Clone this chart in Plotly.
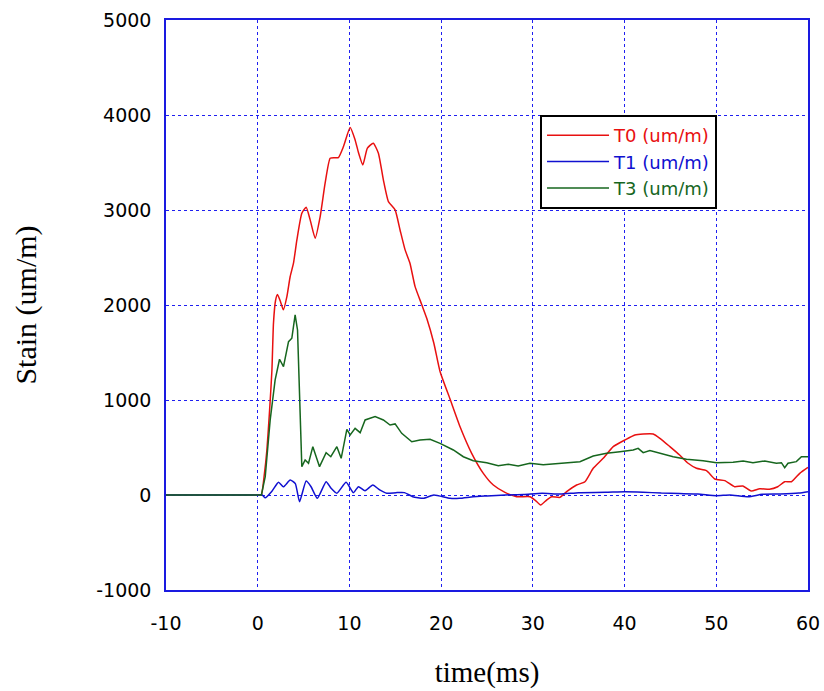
import plotly.graph_objects as go

# ---- data ----
t0_x = [-10, -7, -4, -1, 0.2, 0.4, 0.7, 1.0, 1.3, 1.55, 1.72, 1.95, 2.16, 2.5, 2.8, 3.18, 3.54, 3.9, 4.27, 4.81, 5.28,
        5.72, 6.26, 6.81, 7.35, 7.9, 8.4, 8.8, 9.35, 10.08, 10.62, 11.0, 11.46, 11.96, 12.6, 13.16,
        13.7, 14.25, 14.98, 15.52, 16.07, 16.6, 17.16, 17.9, 18.43, 19.2, 19.88, 20.97, 22.06, 23.33,
        24.6, 25.69, 26.96, 28.23, 29.68, 30.23, 30.85, 31.5, 32.05, 32.95, 33.68, 34.77, 35.68, 36.58,
        37.67, 38.76, 40.03, 41.12, 42.03, 43.12, 43.85, 44.94, 46.0, 46.93, 47.84, 48.93, 49.84, 50.93,
        52.0, 52.9, 53.8, 54.74, 55.8, 56.7, 57.46, 58.2, 59.1, 60]
t0_y = [0, 0, 0, 0, 0, 0, 200, 474, 900, 1316, 1811, 2050, 2110, 2030, 1950, 2088, 2300, 2440, 2685, 2966, 3029,
        2896, 2703, 2931, 3282, 3545, 3550, 3552, 3668, 3868, 3738, 3600, 3475, 3651, 3703, 3598,
        3317, 3088, 3001, 2790, 2580, 2440, 2193, 2000, 1860, 1600, 1300, 1010, 719, 439,
        228, 105, 28, -18, -18, -53, -105, -53, -18, -25, 35, 105, 140, 281,
        386, 509, 579, 632, 642, 642, 597, 509, 421, 334, 281, 256, 168, 151,
        87, 95, 42, 66, 60, 87, 140, 140, 228, 290]

t1_x = [-10, -7, -4, -1, 0.2, 0.5, 0.82, 1.55, 2.27, 2.8, 3.54, 4.1, 4.56, 5.28, 5.8, 6.5, 7.46, 8.0, 8.63, 9.64,
        10.44, 10.98, 11.7, 12.55, 13.3, 14.07, 15.1, 16.0, 16.9, 18.07, 19.2, 20.97, 22.0, 23.5,
        25.0, 27.0, 29.0, 31.0, 33.0, 35.0, 37.9, 40.0, 42.0, 44.0, 46.0, 48.0, 50.0, 51.5, 53.5,
        55.0, 57.0, 59.0, 60]
t1_y = [0, 0, 0, 0, 0, 0, -30, 40, 134, 86, 158, 120, -70, 147, 90, -35, 140, 70, 18, 134,
        25, 88, 46, 105, 53, 18, 25, 25, -18, -35, 0, -35, -35, -18,
        -10, 0, 5, 18, 10, 25, 28, 35, 30, 20, 15, 10, -7, 0, -18,
        7, 10, 20, 35]

t3_x = [-10, 0.4, 0.82, 1.36, 1.9, 2.38, 2.81, 3.36, 3.72, 4.08, 4.34, 4.56, 4.81, 5.17, 5.54, 6.01,
        6.74, 7.46, 7.97, 8.63, 9.1, 9.72, 10.08, 10.62, 11.17, 11.71, 12.8, 13.7, 14.43, 14.98, 15.7,
        16.8, 17.7, 18.79, 19.88, 21.33, 22.42, 23.5, 24.97, 26.23, 27.32, 28.4, 29.68, 31.13, 32.95,
        35.13, 36.58, 38.04, 39.49, 40.94, 41.48, 42.03, 42.76, 43.85, 45.3, 46.75, 48.56, 50.02,
        51.83, 52.93, 54.0, 55.28, 56.55, 57.1, 57.46, 57.82, 58.73, 59.28, 60]
t3_y = [0, 0, 193, 790, 1211, 1429, 1351, 1614, 1650, 1895, 1737, 966, 298, 368, 334, 509,
        298, 446, 403, 509, 386, 690, 632, 702, 656, 790, 825, 790, 737, 748, 649,
        561, 579, 586, 544, 474, 403, 361, 340, 309, 323, 305, 334, 319, 334,
        351, 410, 439, 456, 474, 491, 446, 467, 439, 403, 376, 361, 340,
        344, 358, 340, 358, 334, 340, 288, 334, 351, 403, 403]

x_ticks = [-10, 0, 10, 20, 30, 40, 50, 60]
x_ticktext = ["-10", "0", "10", "20", "30", "40", "50", "60"]
y_ticks = [-1000, 0, 1000, 2000, 3000, 4000, 5000]
y_ticktext = ["-1000", "0", "1000", "2000", "3000", "4000", "5000"]

names = ["T0 (um/m)", "T1 (um/m)", "T3 (um/m)"]
colors = ["#e81010", "#1010d0", "#16661e"]

fig = go.Figure()
series = [(t0_x, t0_y, "spline"), (t1_x, t1_y, "spline"), (t3_x, t3_y, "linear")]
for (xs, ys, shape), nm, c in zip(series, names, colors):
    line = dict(color=c, width=1.5, shape=shape)
    if shape == "spline":
        line["smoothing"] = 0.5
    fig.add_trace(go.Scatter(
        x=xs, y=ys, mode="lines", line=line,
        name="<span style='color:%s'>%s</span>" % (c, nm),
    ))

grid_color = "#1f1ff0"
tick_font = dict(family="DejaVu Sans", size=19, color="black")
axis_common = dict(
    showgrid=True, gridcolor=grid_color, gridwidth=1, griddash="3px,3px",
    zeroline=False, showline=True, linecolor="#1a1ae0", linewidth=1.5, mirror=True,
    ticks="", tickfont=tick_font, automargin=False,
)

fig.update_layout(
    width=824, height=691,
    margin=dict(l=166, r=16, t=20, b=101),
    paper_bgcolor="white", plot_bgcolor="white",
    showlegend=True,
    legend=dict(
        x=0.5826, y=0.8333, xanchor="left", yanchor="top",
        bgcolor="white", bordercolor="black", borderwidth=2,
        font=dict(family="DejaVu Sans", size=18),
        itemwidth=62, tracegroupgap=0,
    ),
    xaxis=dict(range=[-10, 60], tickvals=x_ticks, ticktext=x_ticktext, ticklabelstandoff=15,
               title=dict(text="time(ms)", font=dict(family="Liberation Serif, Times New Roman", size=29, color="black"), standoff=29),
               **axis_common),
    yaxis=dict(range=[-1000, 5000], tickvals=y_ticks, ticktext=y_ticktext, ticklabelstandoff=9,
               title=dict(text="Stain (um/m)", font=dict(family="Liberation Serif, Times New Roman", size=30, color="black"), standoff=51),
               **axis_common),
)

# remove the default page margin so the 824x691 figure fills the window exactly
fig.write_html("out.html", config={"displayModeBar": False},
               post_script="document.body.style.margin='0';document.body.style.overflow='hidden';")
